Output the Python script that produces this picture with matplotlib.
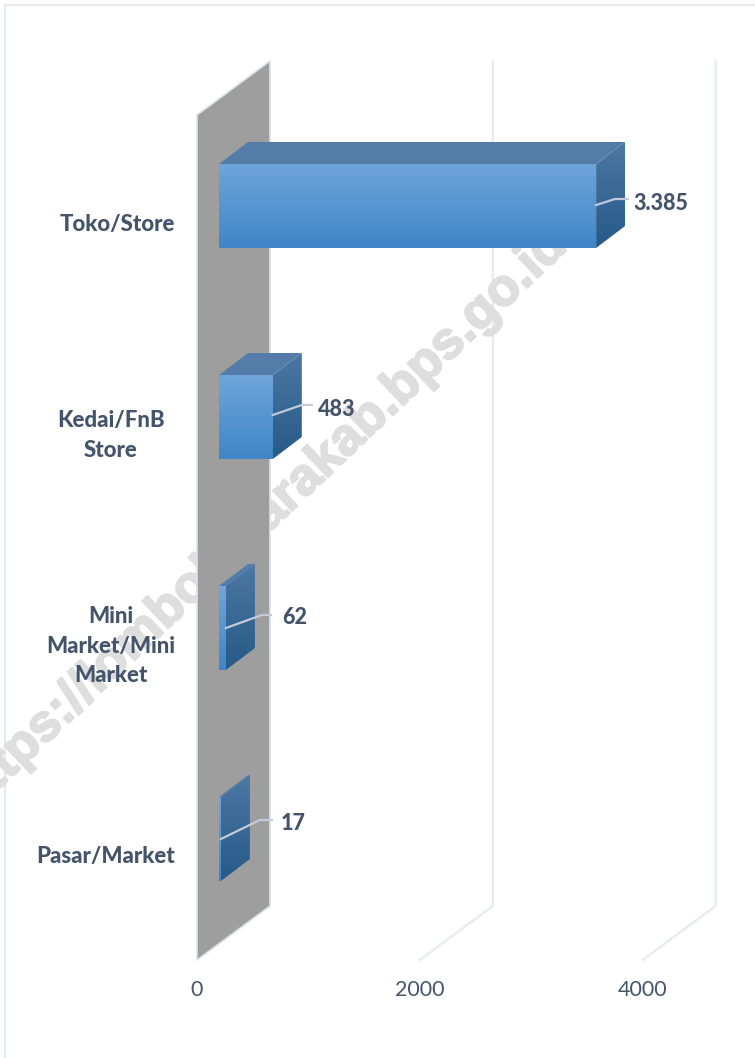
import numpy as np
import matplotlib
matplotlib.use("Agg")
import matplotlib.pyplot as plt
import matplotlib.patheffects as pe
from matplotlib.patches import Polygon
from matplotlib.colors import LinearSegmentedColormap

categories = ["Toko/Store", "Kedai/FnB\nStore", "Mini\nMarket/Mini\nMarket", "Pasar/Market"]
values = [3385, 483, 62, 17]
value_labels = ["3.385", "483", "62", "17"]
ticks = [0, 2000, 4000]

W, H = 755, 1058
fig = plt.figure(figsize=(W/100, H/100), dpi=100, facecolor="white")
ax = fig.add_axes([0, 0, 1, 1])
ax.axis("off")
SC = 0.1114           # px per unit
ax.set_xlim(-197/SC, (W-197)/SC)
YS = 211.0            # px per category
ax.set_ylim((H-206)/YS, -206/YS)
px = 1/SC; py = 1/YS  # data units per pixel

TXT = "#44546A"; GRID = "#E6EAF1"
plt.rcParams["font.family"] = ["Lato", "DejaVu Sans"]

# chart frame
ax.plot([-192*px, (W-197)*px], [-201*py, -201*py], color=GRID, lw=1.6, zorder=1)
ax.plot([-192*px, -192*px], [-201*py, (H-206)*py], color=GRID, lw=1.6, zorder=1)

# wall and floor-lines
wdx, wdy = 73*px, -54*py
y_front0, y_front1 = -91*py, 754*py
ax.add_patch(Polygon([(0, y_front0), (wdx, y_front0+wdy), (wdx, y_front1+wdy), (0, y_front1)],
                     closed=True, fc="#9E9E9E", ec="#DDE1EA", lw=1.2, zorder=2))
for t in ticks[1:]:
    ax.plot([t+wdx, t+wdx, t], [y_front0+wdy, y_front1+wdy, y_front1], color=GRID, lw=1.6, zorder=1)
for t in ticks:
    ax.text(t, 784*py, str(t), color=TXT, fontsize=15.5, ha="center", va="center", zorder=8)

# watermark, beneath the wall and the bars
ax.text((560-197)*px, (238-206)*py, "https://lombokutarakab.bps.go.id", rotation=43.5, rotation_mode="anchor",
        color="#DEDEDE", fontsize=37.5, fontweight="bold", family=["Liberation Sans"],
        ha="right", va="center", zorder=1.5, clip_on=True,
        path_effects=[pe.withStroke(linewidth=1.5, foreground="#DEDEDE")])

# bars
front = LinearSegmentedColormap.from_list("f", ["#6FA5DA", "#3E86C8"])
side = LinearSegmentedColormap.from_list("s", ["#4C77A3", "#265A88"])
x0 = 22*px; ddx, ddy = 29*px, -22*py; hh = 42*py
def grad(poly, cmap, ext):
    g = np.linspace(0, 1, 128).reshape(-1, 1)
    im = ax.imshow(g, cmap=cmap, extent=ext, aspect="auto", origin="upper", zorder=5)
    p = Polygon(poly, closed=True, transform=ax.transData, fc="none", ec="none")
    ax.add_patch(p); im.set_clip_path(p)

for i, (v, c) in enumerate(zip(values, categories)):
    x1 = x0 + v
    yt, yb = i-hh, i+hh
    grad([(x0, yt), (x1, yt), (x1, yb), (x0, yb)], front, (x0, x1, yb, yt))
    grad([(x1, yt), (x1+ddx, yt+ddy), (x1+ddx, yb+ddy), (x1, yb)], side, (x1, x1+ddx, yb, yt+ddy))
    ax.add_patch(Polygon([(x0, yt), (x0+ddx, yt+ddy), (x1+ddx, yt+ddy), (x1, yt)], closed=True,
                         fc="#537DA8", ec="none", zorder=5))

ax.set_xlim(-197/SC, (W-197)/SC)
ax.set_ylim((H-206)/YS, -206/YS)

# leader lines and value labels (pixel offsets from each bar's end)
leader_dx = [(19, 32), (29, 39), (36, 45), (39, 51)]
leader_dy = [(-6, -6), (-10, -10), (-13, -13), (-19, -19)]
start_dy = [-1, -2, 0, 0]
label_x = [633, 318, 282, 281]
label_y = [203, 409, 617, 823]
for i, v in enumerate(values):
    xs = x0 + v
    ys = i + start_dy[i]*py
    ax.plot([xs, xs+leader_dx[i][0]*px, xs+leader_dx[i][1]*px],
            [ys, ys+leader_dy[i][0]*py, ys+leader_dy[i][1]*py], color="#C3CBDA", lw=1.6, zorder=6)
    ax.text((label_x[i]-197)*px, (label_y[i]-206)*py, value_labels[i], color=TXT, fontsize=15.5,
            fontweight="black", ha="left", va="center", zorder=8)

# category labels: the block's centre sits at cat_x unless it is a single line
cat_cy = [224.5, 435.5, 646, 857]
for i, c in enumerate(categories):
    multi = "\n" in c
    ax.text((111-197)*px if multi else (175-197)*px, (cat_cy[i]-206)*py, c, color=TXT, fontsize=16,
            fontweight="black", ha="center" if multi else "right", va="center", linespacing=1.5,
            multialignment="center", zorder=8)

fig.savefig("out.png", dpi=100, facecolor="white")
